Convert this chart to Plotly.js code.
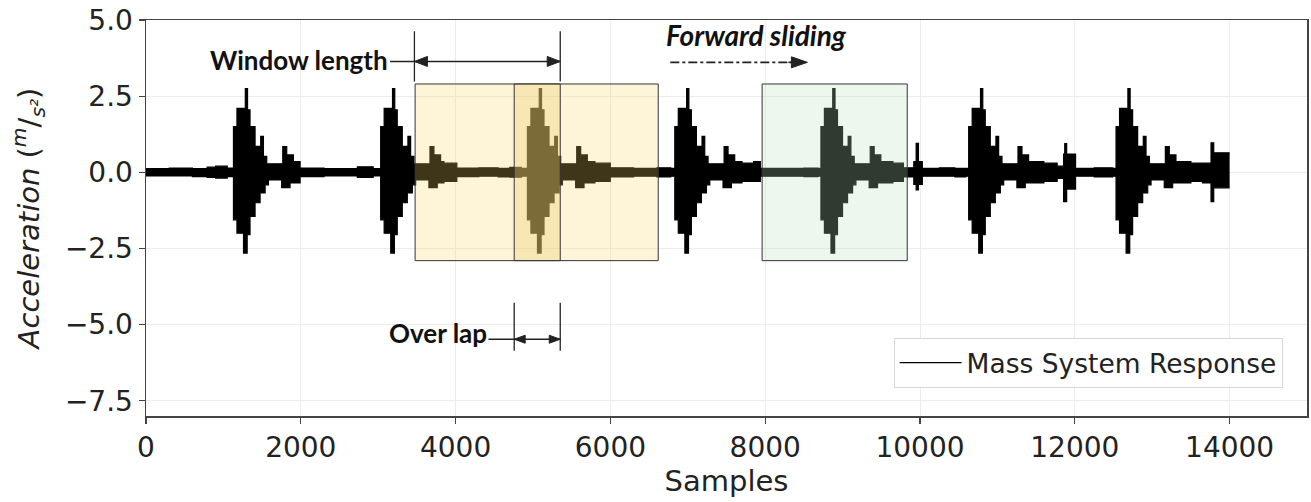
<!DOCTYPE html>
<html>
<head>
<meta charset="utf-8">
<script src="https://cdn.plot.ly/plotly-3.0.1.min.js"></script>
<style>html,body{margin:0;padding:0;background:#fff;}#chart{width:1311px;height:502px;}</style>
</head>
<body>
<div id="chart"></div>
<script>
const sampleIdx = [
  0, 300, 600, 790, 900, 1050,
  1130, 1175, 1260, 1283, 1307, 1312, 1344, 1409, 1474, 1482, 1517, 1539, 1560, 1582, 1753, 1767, 1818, 1861, 1904, 1991,
  2300, 2730, 2935,
  3032, 3077, 3162, 3185, 3209, 3214, 3246, 3311, 3376, 3384, 3419, 3441, 3462, 3484, 3655, 3669, 3720, 3763, 3806, 3850, 4016,
  4300, 4550, 4700, 4850,
  4928, 4973, 5058, 5081, 5105, 5110, 5142, 5207, 5272, 5280, 5315, 5337, 5358, 5380, 5551, 5565, 5616, 5659, 5702, 5800, 5998,
  6300, 6600, 6780,
  6832, 6877, 6962, 6985, 7009, 7014, 7046, 7111, 7176, 7184, 7219, 7241, 7262, 7284, 7455, 7469, 7520, 7563, 7606, 7700, 7850, 7937,
  8200, 8500, 8680,
  8720, 8765, 8850, 8873, 8897, 8902, 8934, 8999, 9064, 9072, 9107, 9129, 9150, 9172, 9343, 9357, 9408, 9451, 9494, 9650, 9786, 9920, 9950, 9980, 10030,
  10250, 10450, 10590,
  10629, 10674, 10759, 10782, 10806, 10811, 10843, 10908, 10973, 10981, 11016, 11038, 11059, 11081, 11252, 11266, 11317, 11360, 11403, 11600, 11772, 11855, 11870, 11895, 12010,
  12250, 12490,
  12533, 12578, 12663, 12686, 12710, 12715, 12747, 12812, 12877, 12885, 12920, 12942, 12963, 12985, 13156, 13170, 13221, 13264, 13307, 13500, 13650, 13760, 13795, 14000
];
const upperEnv = [
  0.12, 0.14, 0.12, 0.17, 0.20, 0.14,
  1.50, 2.10, 2.10, 2.75, 2.75, 2.05, 1.50, 0.85, 0.85, 1.18, 0.52, 0.52, 0.28, 0.28, 0.28, 0.84, 0.57, 0.57, 0.35, 0.14,
  0.12, 0.18, 0.12,
  1.50, 2.10, 2.10, 2.75, 2.75, 2.05, 1.50, 0.85, 0.85, 1.18, 0.52, 0.52, 0.28, 0.28, 0.28, 0.84, 0.57, 0.57, 0.35, 0.30, 0.14,
  0.15, 0.13, 0.16, 0.13,
  1.50, 2.10, 2.10, 2.75, 2.75, 2.05, 1.50, 0.85, 0.85, 1.18, 0.52, 0.52, 0.28, 0.28, 0.28, 0.84, 0.57, 0.57, 0.35, 0.30, 0.15,
  0.13, 0.15, 0.13,
  1.50, 2.10, 2.10, 2.75, 2.75, 2.05, 1.50, 0.85, 0.85, 1.18, 0.52, 0.52, 0.28, 0.28, 0.28, 0.84, 0.57, 0.57, 0.35, 0.30, 0.35, 0.13,
  0.13, 0.14, 0.13,
  1.50, 2.10, 2.10, 2.75, 2.75, 2.05, 1.50, 0.85, 0.85, 1.18, 0.52, 0.52, 0.28, 0.28, 0.28, 0.84, 0.57, 0.57, 0.35, 0.30, 0.15, 0.35, 0.95, 0.35, 0.13,
  0.15, 0.13, 0.13,
  1.50, 2.10, 2.10, 2.75, 2.75, 2.05, 1.50, 0.85, 0.85, 1.18, 0.52, 0.52, 0.28, 0.28, 0.28, 0.84, 0.57, 0.57, 0.35, 0.30, 0.20, 0.60, 0.94, 0.60, 0.13,
  0.15, 0.13,
  1.50, 2.10, 2.10, 2.75, 2.75, 2.05, 1.50, 0.85, 0.85, 1.18, 0.52, 0.52, 0.28, 0.28, 0.28, 0.84, 0.57, 0.57, 0.35, 0.30, 0.30, 0.97, 0.64, 0.64
];
const lowerEnv = [
  -0.12, -0.12, -0.14, -0.17, -0.19, -0.14,
  -1.56, -2.00, -2.65, -2.65, -2.05, -2.05, -1.45, -1.00, -0.68, -0.68, -0.68, -0.41, -0.41, -0.25, -0.50, -0.50, -0.50, -0.35, -0.35, -0.14,
  -0.12, -0.17, -0.12,
  -1.56, -2.00, -2.65, -2.65, -2.05, -2.05, -1.45, -1.00, -0.68, -0.68, -0.68, -0.41, -0.41, -0.25, -0.50, -0.50, -0.50, -0.35, -0.35, -0.30, -0.14,
  -0.13, -0.15, -0.16, -0.13,
  -1.56, -2.00, -2.65, -2.65, -2.05, -2.05, -1.45, -1.00, -0.68, -0.68, -0.68, -0.41, -0.41, -0.25, -0.50, -0.50, -0.50, -0.35, -0.35, -0.30, -0.15,
  -0.13, -0.15, -0.13,
  -1.56, -2.00, -2.65, -2.65, -2.05, -2.05, -1.45, -1.00, -0.68, -0.68, -0.68, -0.41, -0.41, -0.25, -0.50, -0.50, -0.50, -0.35, -0.35, -0.30, -0.30, -0.13,
  -0.13, -0.14, -0.13,
  -1.56, -2.00, -2.65, -2.65, -2.05, -2.05, -1.45, -1.00, -0.68, -0.68, -0.68, -0.41, -0.41, -0.25, -0.50, -0.50, -0.50, -0.35, -0.35, -0.30, -0.15, -0.40, -0.58, -0.40, -0.13,
  -0.13, -0.15, -0.13,
  -1.56, -2.00, -2.65, -2.65, -2.05, -2.05, -1.45, -1.00, -0.68, -0.68, -0.68, -0.41, -0.41, -0.25, -0.50, -0.50, -0.50, -0.35, -0.35, -0.30, -0.20, -0.96, -0.96, -0.55, -0.13,
  -0.15, -0.13,
  -1.56, -2.00, -2.65, -2.65, -2.05, -2.05, -1.45, -1.00, -0.68, -0.68, -0.68, -0.41, -0.41, -0.25, -0.50, -0.50, -0.50, -0.35, -0.35, -0.30, -0.35, -0.96, -0.51, -0.51
];
const xTicks = [0, 2000, 4000, 6000, 8000, 10000, 12000, 14000];
const yTicks = [-7.5, -5.0, -2.5, 0.0, 2.5, 5.0];
const seriesName = "Mass System Response";

const traces = [
  {x: sampleIdx, y: upperEnv, type: 'scatter', mode: 'lines', name: seriesName,
   line: {color: '#000', width: 1.2, shape: 'hv'}, showlegend: true, hoverinfo: 'skip'},
  {x: sampleIdx, y: lowerEnv, type: 'scatter', mode: 'lines', name: seriesName,
   line: {color: '#000', width: 1.2, shape: 'hv'}, fill: 'tonexty', fillcolor: '#000',
   showlegend: false, hoverinfo: 'skip'}
];

const annFam = 'Lato, "Open Sans", sans-serif';
const arrowCol = '#222';
function hline(x0, x1, y, w, dash) {
  return {type: 'line', xref: 'x', yref: 'y', x0: x0, x1: x1, y0: y, y1: y, line: {color: arrowCol, width: w, dash: dash || 'solid'}};
}
function vline(x, y0, y1) {
  return {type: 'line', xref: 'x', yref: 'y', x0: x, x1: x, y0: y0, y1: y1, line: {color: arrowCol, width: 1.3}};
}
function head(x, y, dir, len, half) {
  const p = dir > 0 ? `M0,0 L${-len},${half} L${-len},${-half} Z` : `M0,0 L${len},${half} L${len},${-half} Z`;
  return {type: 'path', xref: 'x', yref: 'y', xsizemode: 'pixel', ysizemode: 'pixel', xanchor: x, yanchor: y,
          path: p, fillcolor: arrowCol, line: {color: arrowCol, width: 1}};
}

const layout = {
  width: 1311, height: 502,
  margin: {l: 146, r: 4, t: 20, b: 86},
  paper_bgcolor: '#fff', plot_bgcolor: '#fff',
  font: {family: '"DejaVu Sans", sans-serif', color: '#222'},
  xaxis: {
    range: [0, 15000], tickvals: xTicks, ticktext: xTicks.map(String),
    showgrid: true, gridcolor: '#ececec', gridwidth: 1, zeroline: false,
    showline: true, linecolor: '#444', linewidth: 1.5, mirror: true,
    ticks: 'outside', ticklen: 6, tickwidth: 1.2, tickcolor: '#444',
    tickfont: {size: 28, color: '#222'},
    title: {text: 'Samples', font: {size: 29, color: '#222'}, standoff: 4}
  },
  yaxis: {
    range: [-8, 5], tickvals: yTicks, ticktext: yTicks.map(v => v.toFixed(1).replace('-', '\u2212')),
    showgrid: true, gridcolor: '#ececec', gridwidth: 1, zeroline: false,
    showline: true, linecolor: '#444', linewidth: 1.5, mirror: true,
    ticks: 'outside', ticklen: 6, tickwidth: 1.2, tickcolor: '#444',
    tickfont: {size: 28, color: '#222'},
    title: {text: '<i>Acceleration</i> (<sup><i>m</i></sup>/<sub><i>s²</i></sub>)', font: {size: 29, color: '#222'}, standoff: 17}
  },
  legend: {
    x: 0.979, y: 0.197, xanchor: 'right', yanchor: 'top',
    bgcolor: 'rgba(255,255,255,0.9)', bordercolor: '#d8d8d8', borderwidth: 1,
    itemwidth: 62,
    font: {size: 26.5, color: '#222'}
  },
  shapes: [
    // sliding windows (tinted overlays)
    {type: 'rect', xref: 'x', yref: 'y', x0: 3477, x1: 6618, y0: -2.9, y1: 2.9, layer: 'above',
     fillcolor: 'rgba(250,215,100,0.25)', line: {color: '#333', width: 1}},
    {type: 'rect', xref: 'x', yref: 'y', x0: 4757, x1: 5352, y0: -2.9, y1: 2.9, layer: 'above',
     fillcolor: 'rgba(231,205,117,0.35)', line: {color: '#333', width: 1}},
    {type: 'rect', xref: 'x', yref: 'y', x0: 7960, x1: 9835, y0: -2.9, y1: 2.9, layer: 'above',
     fillcolor: 'rgba(185,223,185,0.26)', line: {color: '#333', width: 1}},
    // window length markers
    vline(3468, 4.63, 2.98), vline(5352, 4.63, 2.98),
    hline(3154, 5352, 3.64, 1.4),
    head(3468, 3.64, -1, 13, 5), head(5352, 3.64, 1, 13, 5),
    // overlap markers
    vline(4757, -4.28, -5.86), vline(5352, -4.28, -5.86),
    hline(4425, 5352, -5.48, 1.4),
    head(4757, -5.48, -1, 11, 4), head(5352, -5.48, 1, 11, 4),
    // forward sliding dash-dot arrow
    hline(6774, 8360, 3.61, 1.6, 'dashdot'),
    hline(8300, 8420, 3.61, 1.6),
    head(8545, 3.61, 1, 16, 5.5)
  ],
  annotations: [
    {xref: 'x', yref: 'y', x: 3154, y: 3.70, xanchor: 'right', yanchor: 'middle', showarrow: false,
     text: '<b>Window length</b>', font: {family: annFam, size: 26, color: '#111'}},
    {xref: 'x', yref: 'y', x: 4425, y: -5.28, xanchor: 'right', yanchor: 'middle', showarrow: false,
     text: '<b>Over lap</b>', font: {family: annFam, size: 26, color: '#111'}},
    {xref: 'x', yref: 'y', x: 7885, y: 4.52, xanchor: 'center', yanchor: 'middle', showarrow: false,
     text: '<b><i>Forward sliding</i></b>', font: {family: annFam, size: 28, color: '#111'}}
  ]
};

Plotly.newPlot('chart', traces, layout, {displayModeBar: false, staticPlot: true});
</script>
</body>
</html>
